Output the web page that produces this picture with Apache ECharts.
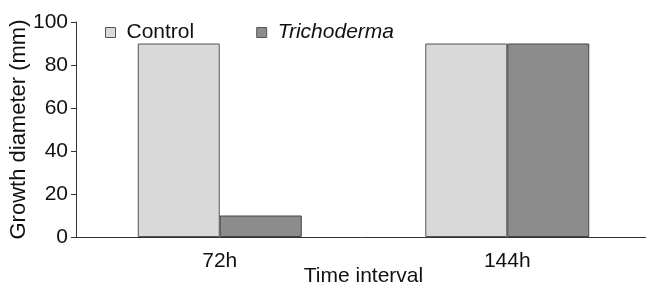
<!DOCTYPE html>
<html>
<head>
<meta charset="utf-8">
<script src="https://cdn.jsdelivr.net/npm/echarts@6/dist/echarts.min.js"></script>
<style>
  html, body { margin: 0; padding: 0; background: #fff; }
  #chart { width: 646px; height: 284px; }
</style>
</head>
<body>
<div id="chart"></div>
<script>
const categories = ['72h', '144h'];
const controlValues = [90, 90];
const trichodermaValues = [10, 90];
const yTicks = [0, 20, 40, 60, 80, 100];

const chart = echarts.init(document.getElementById('chart'));
const font = 'Liberation Sans, Arial, sans-serif';

chart.setOption({
  backgroundColor: '#fff',
  animation: false,
  textStyle: { fontFamily: font, color: '#111' },
  legend: {
    left: 100,
    top: 17,
    itemWidth: 10,
    itemHeight: 10,
    itemGap: 62,
    icon: 'rect',
    textStyle: { fontSize: 21, color: '#111', fontFamily: font, padding: [0, 0, 0, 6] },
    formatter: name => name === 'Trichoderma' ? '{i|' + name + '}' : name,
    data: [
      { name: 'Control', itemStyle: { borderColor: '#555', borderWidth: 1 } },
      {
        name: 'Trichoderma',
        itemStyle: { borderColor: '#555', borderWidth: 1 },
        textStyle: { rich: { i: { fontStyle: 'italic', fontSize: 21, fontFamily: font, color: '#111' } } }
      }
    ]
  },
  grid: { left: 76, right: -5, top: 22, bottom: 47, containLabel: false, outerBoundsMode: 'none' },
  xAxis: {
    type: 'category',
    data: categories,
    name: 'Time interval',
    nameLocation: 'middle',
    nameMoveOverlap: false,
    nameGap: 29,
    nameTextStyle: { fontSize: 21, color: '#111' },
    axisLine: { lineStyle: { color: '#333', width: 1 } },
    axisTick: { show: false },
    axisLabel: { fontSize: 21, color: '#111', margin: 14 }
  },
  yAxis: {
    type: 'value',
    min: yTicks[0],
    max: yTicks[yTicks.length - 1],
    interval: 20,
    name: 'Growth diameter (mm)',
    nameLocation: 'middle',
    nameMoveOverlap: false,
    nameRotate: 90,
    nameGap: 46,
    nameTextStyle: { fontSize: 22, color: '#111' },
    axisLine: { show: true, lineStyle: { color: '#333', width: 1 } },
    axisTick: { show: true, length: 5, lineStyle: { color: '#333' } },
    axisLabel: { fontSize: 21, color: '#111', margin: 8 },
    splitLine: { show: false }
  },
  series: [
    {
      name: 'Control',
      type: 'bar',
      data: controlValues,
      barWidth: 82,
      barGap: '0%',
      itemStyle: { color: '#d9d9d9', borderColor: '#555', borderWidth: 1 }
    },
    {
      name: 'Trichoderma',
      type: 'bar',
      data: trichodermaValues,
      barWidth: 82,
      itemStyle: { color: '#8c8c8c', borderColor: '#444', borderWidth: 1 }
    }
  ]
});
</script>
</body>
</html>
